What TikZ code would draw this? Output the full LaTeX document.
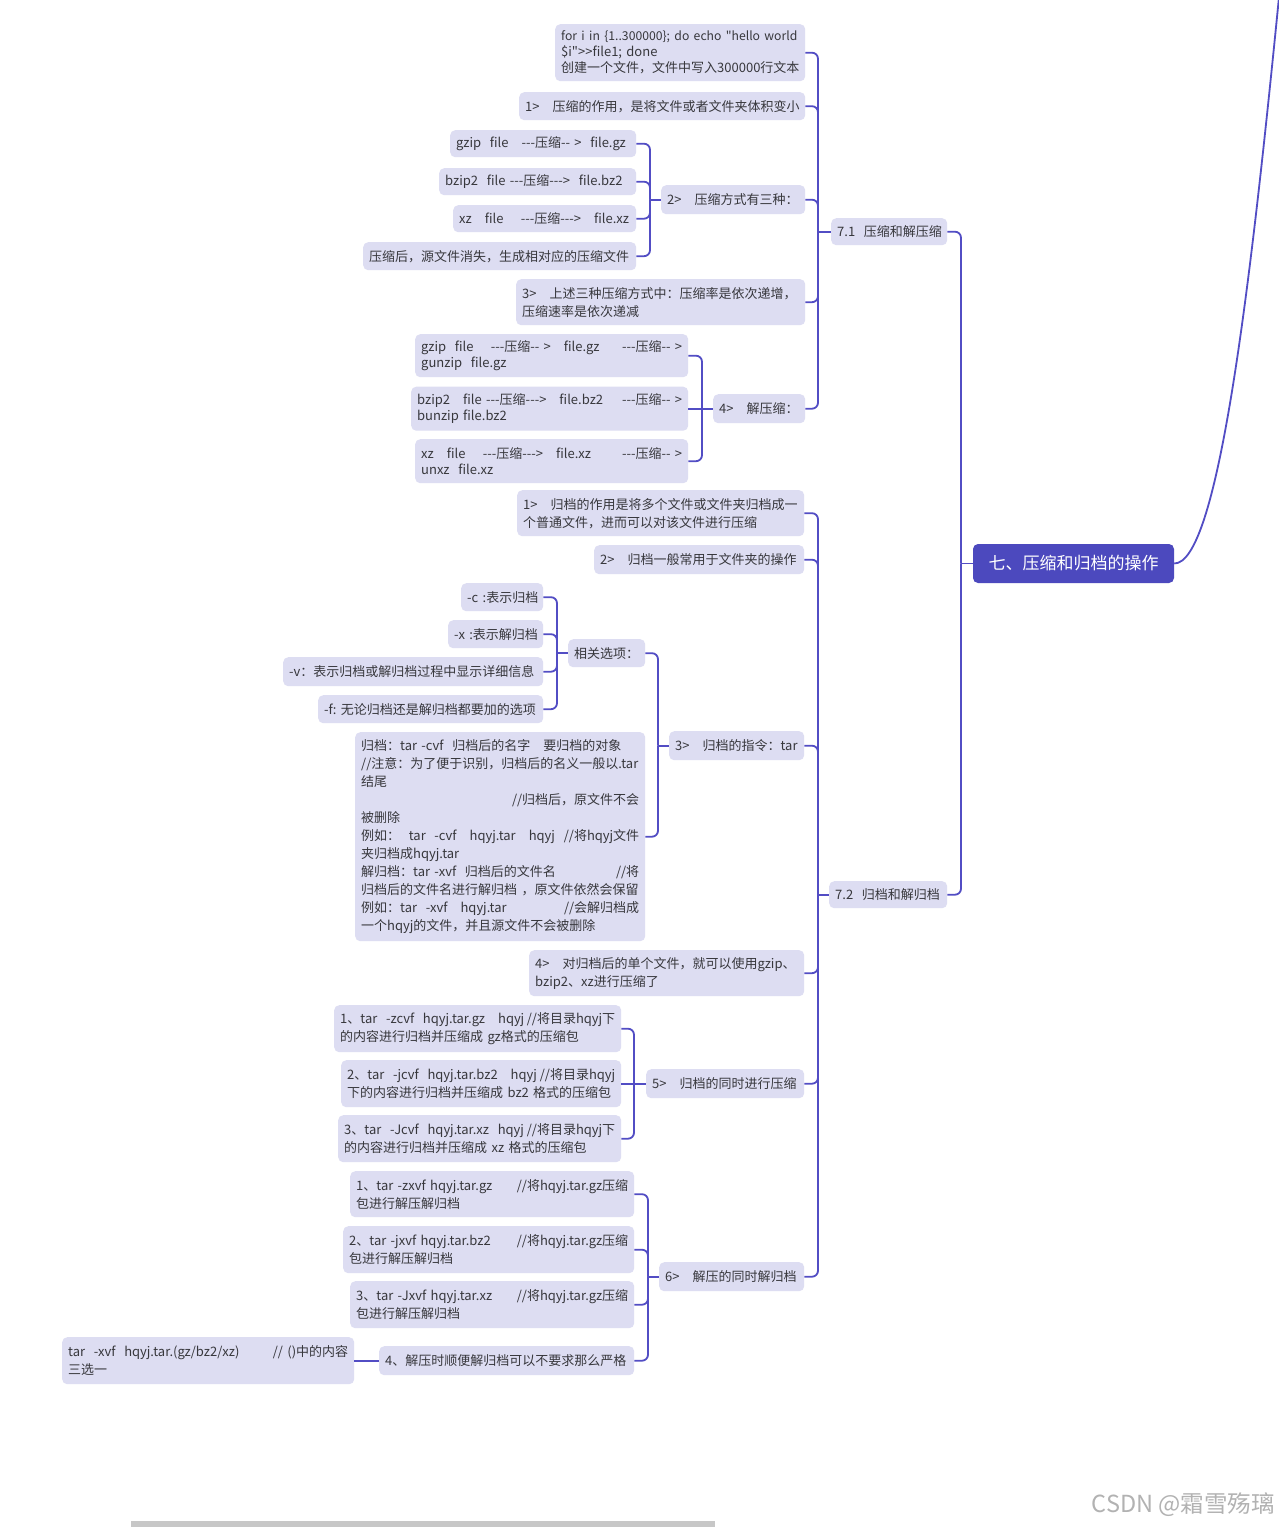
\documentclass[tikz,border=0pt]{standalone}
\usepackage{fontspec}
\newfontfamily\zhfont{Noto Sans CJK SC}
\exhyphenpenalty=10000
\hyphenpenalty=10000
\definecolor{boxfill}{RGB}{221,221,242}
\definecolor{linec}{RGB}{82,77,196}
\definecolor{rootfill}{RGB}{76,73,190}
\definecolor{txt}{RGB}{55,55,60}
\tikzset{
  box/.style={draw=none, fill=boxfill, rounded corners=5pt, inner xsep=6pt, inner ysep=0pt,
    align=left, text=txt, font=\zhfont\fontsize{13}{16}\selectfont},
  lh/.style={font=\zhfont\fontsize{13}{18}\selectfont},
  rootbox/.style={draw=none, fill=rootfill, rounded corners=5pt, text=white, align=center,
    font=\zhfont\fontsize{17}{20}\selectfont},
  link/.style={draw=linec, line width=1.8pt, rounded corners=6pt},
  curveline/.style={draw=linec, line width=1.8pt},
}
\newcommand{\bx}[7][]{%
  \pgfmathsetmacro{\bxw}{#5-#3-12}%
  \pgfmathsetmacro{\bxh}{#6-#4}%
  \node[box,#1,text width=\bxw pt,minimum height=\bxh pt,anchor=north west] (#2) at (#3,#4) {#7};}
\newcommand{\cn}[3]{\draw[link] (#1.east) -- (#1.east -| #3) -- (#2.west -| #3);}
\newcommand{\cstraight}[2]{\draw[link] (#1.east) -- (#2.west);}
\newcommand{\stub}[2]{\draw[link] (#1.west -| #2) -- (#1.west);}
\begin{document}
\begin{tikzpicture}[x=1pt,y=-1pt]
\fill[white] (0,0) rectangle (1278,1527);
\useasboundingbox (0,0) rectangle (1278,1527);

% vertical line positions
\coordinate (vroot) at (961,0);
\coordinate (v71) at (818,0);
\coordinate (v2) at (650,0);
\coordinate (v4) at (702,0);
\coordinate (v72) at (818,0);
\coordinate (v3) at (658,0);
\coordinate (vopt) at (557,0);
\coordinate (v5) at (634,0);
\coordinate (v6) at (648,0);

% root
\node[rootbox, minimum width=201pt, minimum height=39pt, inner sep=0pt] (root) at (1073.5,563.5) {七、压缩和归档的操作};
\coordinate (outer) at (1279,-3);
\draw[curveline] (root.east) .. controls (1218,564) and (1250,290) .. (outer);

% level 1
\bx{n71}{831}{218}{947}{245}{7.1~~压缩和解压缩}
\bx{n72}{829}{881}{947}{908}{7.2~~归档和解归档}

% 7.1 children
\bx{a1}{555}{24}{805}{81}{{\fontsize{12.2}{16}\selectfont for~i~in~\{1..300000\};~do~echo~"hello~world}\\\$i">>file1; done\\创建一个文件，文件中写入300000行文本}
\bx{a2}{519}{92}{805}{120}{1>~~~压缩的作用，是将文件或者文件夹体积变小}
\bx{a3}{661}{185}{805}{214}{2>~~~压缩方式有三种：}
\bx[lh]{a4}{516}{279}{805}{325}{3>~~~上述三种压缩方式中：压缩率是依次递增，\\压缩速率是依次递减}
\bx{a5}{713}{394}{805}{423}{4>~~~解压缩：}

% 2> children
\bx{b1}{450}{130}{636}{157}{gzip~~file~~~---压缩--~>~~file.gz}
\bx{b2}{439}{168}{636}{195}{bzip2~~file~---压缩--->~~file.bz2}
\bx{b3}{453}{205}{636}{232}{xz~~~file~~~~---压缩--->~~~file.xz}
\bx{b4}{363}{242}{636}{270}{压缩后，源文件消失，生成相对应的压缩文件}

% 4> children
\bx{c1}{415}{334}{688}{377}{gzip~~file~~~~---压缩--~>~~~file.gz\hfill---压缩--~>\\gunzip~~file.gz}
\bx{c2}{411}{386.5}{688}{430.5}{bzip2~~~file~---压缩--->~~~file.bz2\hfill---压缩--~>\\bunzip~file.bz2}
\bx{c3}{415}{439}{688}{483}{xz~~~file~~~~---压缩--->~~~file.xz\hfill---压缩--~>\\unxz~~file.xz}

% 7.2 children
\bx[lh]{d1}{517}{490}{804}{536}{1>~~~归档的作用是将多个文件或文件夹归档成一\\个普通文件，进而可以对该文件进行压缩}
\bx{d2}{594}{545}{804}{574}{2>~~~归档一般常用于文件夹的操作}
\bx{d3}{669}{731}{804}{760}{3>~~~归档的指令：tar}
\bx[lh]{d4}{529}{950}{804}{996}{4>~~~对归档后的单个文件，就可以使用gzip、\\bzip2、xz进行压缩了}
\bx{d5}{646}{1069}{804}{1098}{5>~~~归档的同时进行压缩}
\bx{d6}{659}{1262}{804}{1291}{6>~~~解压的同时解归档}

% 3> children
\bx{e1}{568}{639}{645}{667}{相关选项：}
\bx[lh]{e2}{355}{732}{645}{941}{归档：tar~-cvf~~归档后的名字~~~要归档的对象\\//注意：为了便于识别，归档后的名义一般以.tar\\结尾\\\mbox{}\hfill//归档后，原文件不会\\被删除\\例如：~~tar~~-cvf~~~hqyj.tar~~~hqyj\hfill//将hqyj文件\\夹归档成hqyj.tar\\解归档：tar~-xvf~~归档后的文件名\hfill//将\\归档后的文件名进行解归档~，原文件依然会保留\\例如：tar~~-xvf~~~hqyj.tar\hfill//会解归档成~\\一个hqyj的文件，并且源文件不会被删除}

% option children
\bx{f1}{461}{583}{543}{611}{-c~:表示归档}
\bx{f2}{448}{620}{543}{648}{-x~:表示解归档}
\bx{f3}{283}{657}{543}{686}{-v：表示归档或解归档过程中显示详细信息}
\bx{f4}{318}{695}{543}{723}{-f:~无论归档还是解归档都要加的选项}

% 5> children
\bx[lh]{g1}{334}{1005}{621}{1052}{1、tar~~-zcvf~~hqyj.tar.gz~~~hqyj\hfill//将目录hqyj下\\的内容进行归档并压缩成~gz格式的压缩包}
\bx[lh]{g2}{341}{1060}{621}{1107}{2、tar~~-jcvf~~hqyj.tar.bz2~~~hqyj\hfill//将目录hqyj\\下的内容进行归档并压缩成~bz2~格式的压缩包}
\bx[lh]{g3}{338}{1115}{621}{1162}{3、tar~~-Jcvf~~hqyj.tar.xz~~hqyj\hfill//将目录hqyj下\\的内容进行归档并压缩成~xz~格式的压缩包}

% 6> children
\bx[lh]{h1}{350}{1171}{634}{1217}{1、tar~-zxvf~hqyj.tar.gz\hfill//将hqyj.tar.gz压缩\\包进行解压解归档}
\bx[lh]{h2}{343}{1226}{634}{1273}{2、tar~-jxvf~hqyj.tar.bz2\hfill//将hqyj.tar.gz压缩\\包进行解压解归档}
\bx[lh]{h3}{350}{1281}{634}{1328}{3、tar~-Jxvf~hqyj.tar.xz\hfill//将hqyj.tar.gz压缩\\包进行解压解归档}
\bx{h4}{379}{1346}{634}{1375}{4、解压时顺便解归档可以不要求那么严格}

\bx[lh]{i1}{62}{1337}{354}{1384}{tar~~-xvf~~hqyj.tar.(gz/bz2/xz)\hfill//~()中的内容\\三选一}

% connectors
\cn{n71}{root}{vroot}
\cn{n72}{root}{vroot}
\stub{root}{vroot}

\foreach \c in {a1,a2,a3,a4,a5} {\cn{\c}{n71}{v71}}
\stub{n71}{v71}

\foreach \c in {b1,b2,b3,b4} {\cn{\c}{a3}{v2}}
\stub{a3}{v2}

\cn{c1}{a5}{v4}
\cstraight{c2}{a5}
\cn{c3}{a5}{v4}

\foreach \c in {d1,d2,d3,d4,d5,d6} {\cn{\c}{n72}{v72}}
\stub{n72}{v72}

\cn{e1}{d3}{v3}
\cn{e2}{d3}{v3}
\stub{d3}{v3}

\foreach \c in {f1,f2,f3,f4} {\cn{\c}{e1}{vopt}}
\stub{e1}{vopt}

\cn{g1}{d5}{v5}
\draw[link] (g2.east) -- (g2.east -| d5.west);
\cn{g3}{d5}{v5}

\foreach \c in {h1,h2,h3,h4} {\cn{\c}{d6}{v6}}
\stub{d6}{v6}

\cstraight{i1}{h4}

% watermark and scrollbar
\node[font=\zhfont\fontsize{23.5}{24}\selectfont, text=black!30, anchor=east, inner sep=0pt] (wm) at (1275,1505) {CSDN @霜雪殇璃};
\fill[black!22] (131,1521) rectangle (715,1527);
\end{tikzpicture}
\end{document}
